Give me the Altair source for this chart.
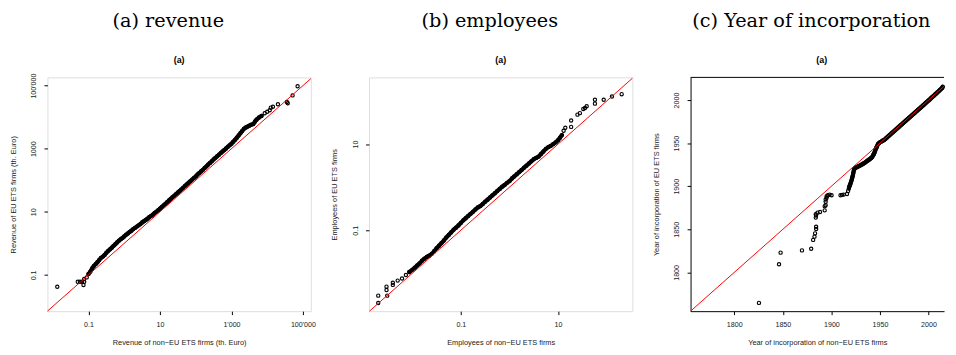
import altair as alt
import pandas as pd

# ---------------- texts ----------------
captions = ["(a) revenue", "(b) employees", "(c) Year of incorporation"]
panel_tags = ["(a)", "(a)", "(a)"]
x_titles = ["Revenue of non\u2212EU ETS firms (th. Euro)",
            "Employees of non\u2212EU ETS firms",
            "Year of incorporation of non\u2212EU ETS firms"]
y_titles = ["Revenue of EU ETS firms (th. Euro)",
            "Employees of EU ETS firms",
            "Year of incorporation of EU ETS firms"]

# ---------------- data (quantile pairs) ----------------
# revenue, log10 of (non-EU quantile, EU quantile)
rev_low_log10 = [
    (-1.873, -1.375), (-1.30, -1.22), (-1.24, -1.22), (-1.18, -1.22), (-1.14, -1.32),
    (-1.12, -1.22), (-1.12, -1.13), (-1.05, -1.08),
]
rev_band_log10 = [
    (-1.00, -0.97), (-0.95, -0.90), (-0.90, -0.80), (-0.85, -0.72), (-0.80, -0.66),
    (-0.75, -0.60), (-0.70, -0.53), (-0.65, -0.46), (-0.60, -0.42), (-0.55, -0.37),
    (-0.50, -0.30), (-0.45, -0.24), (-0.40, -0.19), (-0.35, -0.14), (-0.30, -0.08),
    (-0.25, -0.03), (-0.20, 0.03), (-0.15, 0.08), (-0.10, 0.13), (-0.05, 0.17),
    (0.00, 0.22), (0.05, 0.27), (0.10, 0.31), (0.15, 0.36), (0.20, 0.40),
    (0.25, 0.45), (0.30, 0.49), (0.35, 0.53), (0.40, 0.57), (0.45, 0.61),
    (0.50, 0.66), (0.55, 0.70), (0.60, 0.74), (0.65, 0.78), (0.70, 0.83),
    (0.75, 0.87), (0.80, 0.91), (0.85, 0.96), (0.90, 1.00), (0.95, 1.05),
    (1.00, 1.10), (1.05, 1.15), (1.10, 1.20), (1.15, 1.25), (1.20, 1.30),
    (1.25, 1.36), (1.30, 1.41), (1.35, 1.46), (1.40, 1.51), (1.45, 1.56),
    (1.50, 1.61), (1.55, 1.66), (1.60, 1.71), (1.65, 1.76), (1.70, 1.82),
    (1.75, 1.87), (1.80, 1.92), (1.85, 1.97), (1.90, 2.02), (1.95, 2.07),
    (2.00, 2.12), (2.05, 2.18), (2.10, 2.23), (2.15, 2.28), (2.20, 2.33),
    (2.25, 2.39), (2.30, 2.44), (2.35, 2.50), (2.40, 2.55), (2.45, 2.60),
    (2.50, 2.66), (2.55, 2.71), (2.60, 2.76), (2.65, 2.81), (2.70, 2.86),
    (2.75, 2.91), (2.80, 2.96), (2.85, 3.01), (2.90, 3.06), (2.95, 3.11),
    (3.00, 3.16), (3.05, 3.22), (3.10, 3.28), (3.15, 3.35), (3.20, 3.42),
    (3.25, 3.49), (3.30, 3.56), (3.35, 3.63), (3.40, 3.67), (3.45, 3.70),
    (3.50, 3.73), (3.55, 3.76), (3.61, 3.78), (3.66, 3.86), (3.70, 3.92),
    (3.77, 3.99), (3.84, 4.04),
]
rev_high_log10 = [
    (3.93, 4.125), (4.00, 4.17), (4.07, 4.22), (4.10, 4.30), (4.16, 4.33),
    (4.30, 4.41), (4.55, 4.48), (4.575, 4.44), (4.71, 4.69), (4.85, 4.98),
]
# employees, log10 of (non-EU quantile, EU quantile)
emp_low_log10 = [
    (-2.70, -2.69), (-2.70, -2.52), (-2.515, -2.52), (-2.53, -2.39), (-2.53, -2.31),
    (-2.40, -2.27), (-2.40, -2.22), (-2.30, -2.17), (-2.21, -2.12), (-2.13, -2.04),
]
emp_band_log10 = [
    (-2.06, -1.97), (-2.00, -1.92), (-1.95, -1.87), (-1.90, -1.82), (-1.85, -1.77),
    (-1.80, -1.71), (-1.75, -1.66), (-1.70, -1.62), (-1.65, -1.59), (-1.60, -1.55),
    (-1.55, -1.49), (-1.50, -1.42), (-1.45, -1.36), (-1.40, -1.30), (-1.35, -1.24),
    (-1.30, -1.17), (-1.25, -1.11), (-1.20, -1.05), (-1.15, -0.99), (-1.10, -0.94),
    (-1.05, -0.89), (-1.00, -0.83), (-0.95, -0.77), (-0.90, -0.72), (-0.85, -0.67),
    (-0.80, -0.62), (-0.75, -0.57), (-0.70, -0.52), (-0.65, -0.47), (-0.60, -0.44),
    (-0.55, -0.39), (-0.50, -0.34), (-0.45, -0.29), (-0.40, -0.24), (-0.35, -0.19),
    (-0.30, -0.14), (-0.25, -0.09), (-0.20, -0.04), (-0.15, 0.01), (-0.10, 0.05),
    (-0.05, 0.10), (0.00, 0.14), (0.05, 0.20), (0.10, 0.25), (0.15, 0.30),
    (0.20, 0.35), (0.25, 0.40), (0.30, 0.45), (0.35, 0.50), (0.40, 0.55),
    (0.45, 0.60), (0.50, 0.65), (0.55, 0.68), (0.60, 0.71), (0.65, 0.77),
    (0.70, 0.83), (0.75, 0.89), (0.80, 0.93), (0.85, 0.96), (0.90, 1.00),
    (0.95, 1.04), (1.00, 1.09), (1.04, 1.15), (1.08, 1.21),
]
emp_high_log10 = [
    (1.115, 1.31), (1.15, 1.38), (1.27, 1.40), (1.27, 1.55), (1.40, 1.685),
    (1.45, 1.72), (1.52, 1.815), (1.555, 1.84), (1.59, 1.88), (1.76, 1.94),
    (1.76, 2.03), (1.94, 2.03), (2.11, 2.105), (2.31, 2.16),
]
# year of incorporation, (non-EU quantile, EU quantile)
year_low = [
    (1825.4, 1764.6), (1846.1, 1809.5), (1847.7, 1822.9), (1869.7, 1825.5),
    (1879.2, 1827.4), (1881.2, 1837.7), (1882.6, 1841.5), (1883.2, 1845.3),
    (1884.3, 1850.3), (1884.3, 1852.9), (1883.9, 1863.6), (1884.2, 1866.0),
    (1883.9, 1867.4), (1885.7, 1869.3), (1888.3, 1870.1), (1893.1, 1872.0),
    (1893.1, 1876.9), (1894.1, 1878.0), (1894.1, 1882.0), (1894.1, 1884.6),
    (1895.1, 1886.5), (1895.1, 1888.3), (1896.4, 1889.5), (1898.2, 1890.3),
    (1900.2, 1889.5), (1909.4, 1889.5), (1911.0, 1890.0), (1912.7, 1890.3),
    (1916.1, 1891.0), (1917.2, 1894.5),
]
year_band = [
    (1918.0, 1897.5), (1918.5, 1899.8),
    (1919.2, 1901.5), (1919.8, 1903.5), (1920.5, 1906.0), (1921.2, 1908.6),
    (1921.7, 1911.0), (1922.2, 1913.1), (1922.7, 1916.0), (1923.2, 1918.9),
    (1924.0, 1920.5), (1925, 1921.5), (1926, 1922.0), (1927, 1922.6),
    (1928, 1923.2), (1929, 1923.8), (1930, 1924.4), (1931, 1925.0),
    (1932, 1925.6), (1933, 1926.3), (1934, 1927.0), (1935, 1927.7),
    (1936, 1928.6), (1937, 1929.5), (1938, 1930.2), (1939, 1931.0),
    (1940, 1931.9), (1941, 1932.8), (1942, 1934.0), (1943, 1936.0),
    (1943.5, 1937.0), (1944, 1938.0), (1944.7, 1940.0), (1945.3, 1942.0),
    (1946, 1944.0), (1946.5, 1945.0), (1947, 1946.5), (1948, 1949.0),
    (1949, 1950.0), (1950, 1951.0), (1951, 1951.5), (1952, 1952.3),
    (1953, 1953.0), (1954, 1953.5), (1955, 1954.4), (1956, 1955.4),
    (1957, 1956.4), (1958, 1957.4), (1959, 1958.4), (1960, 1959.4),
    (1961, 1960.4), (1962, 1961.4), (1963, 1962.4), (1964, 1963.4),
    (1965, 1964.4), (1966, 1965.4), (1967, 1966.4), (1968, 1967.4),
    (1969, 1968.4), (1970, 1969.4), (1971, 1970.4), (1972, 1971.4),
    (1973, 1972.4), (1974, 1973.4), (1975, 1974.4), (1976, 1975.4),
    (1977, 1976.4), (1978, 1977.4), (1979, 1978.4), (1980, 1979.4),
    (1981, 1980.4), (1982, 1981.4), (1983, 1982.4), (1984, 1983.4),
    (1985, 1984.4), (1986, 1985.4), (1987, 1986.4), (1988, 1987.4),
    (1989, 1988.4), (1990, 1989.4), (1991, 1990.4), (1992, 1991.4),
    (1993, 1992.4), (1994, 1993.4), (1995, 1994.4), (1996, 1995.4),
    (1997, 1996.5), (1998, 1997.5), (1999, 1998.5), (2000, 1999.5),
    (2001, 2000.5), (2002, 2001.5), (2003, 2002.6), (2004, 2003.6),
    (2005, 2004.6), (2006, 2005.6), (2007, 2006.7), (2008, 2007.7),
    (2009, 2008.7), (2010, 2009.8), (2011, 2010.8), (2012, 2011.9),
    (2013, 2013.0), (2014, 2014.0), (2014.6, 2015.4),
]
year_high = []

# axis ranges (log10 for the two log panels)
rev_x_dom_log10 = [-2.148, 5.22]
rev_y_dom_log10 = [-2.15, 5.26]
emp_x_dom_log10 = [-2.89, 2.53]
emp_y_dom_log10 = [-2.88, 2.55]
year_x_dom = [1755, 2016]
year_y_dom = [1755, 2026.3]

# ticks
rev_ticks = [0.1, 10, 1000, 100000]
rev_x_labels = ["0.1", "10", "1'000", "100'000"]
rev_y_labels = ["0.1", "10", "1000", "100'000"]
emp_ticks = [0.1, 10]
emp_labels = ["0.1", "10"]
year_ticks = [1800, 1850, 1900, 1950, 2000]
year_labels = ["1800", "1850", "1900", "1950", "2000"]

# ---------------- layout constants ----------------
W12, W3, H = 267, 257, 237
SPACING = 59
FONT = "Liberation Sans"
TXT = "#222222"


def label_expr(values, labels):
    expr = '""'
    for v, lab in reversed(list(zip(values, labels))):
        tol = abs(v) * 1e-6
        expr = f'(abs(datum.value - {v}) <= {tol}) ? "{lab}" : ({expr})'
    return expr


def make_axis(title, values, labels, vertical, domain):
    kw = dict(
        title=title, values=values, labelExpr=label_expr(values, labels),
        grid=False, domain=domain, domainColor="black", domainWidth=1,
        ticks=True, tickSize=3.5, tickColor="black", tickWidth=1,
        labelFont=FONT, labelFontSize=7.2, labelColor=TXT,
        labelFlush=False, labelOverlap=False, labelBound=False,
        titleFont=FONT, titleFontSize=7.5, titleFontWeight="normal", titleColor=TXT,
    )
    if vertical:
        kw.update(labelAngle=270, labelAlign="center", labelBaseline="bottom",
                  labelPadding=6.5, titlePadding=12.5)
    else:
        kw.update(labelPadding=6.0, titlePadding=11.0)
    return alt.Axis(**kw)


def to_df(pairs, log):
    if log:
        return pd.DataFrame({"x": [10 ** a for a, b in pairs], "y": [10 ** b for a, b in pairs]})
    return pd.DataFrame({"x": [a for a, b in pairs], "y": [b for a, b in pairs]})


def panel(low, band, high, log, xdom, ydom, xaxis, yaxis, width, caption, tag, tag_dx, framed):
    if log:
        xd = [10 ** v for v in xdom]
        yd = [10 ** v for v in ydom]
        stype = "log"
    else:
        xd, yd = list(xdom), list(ydom)
        stype = "linear"
    lo = max(xd[0], yd[0])
    hi = min(xd[1], yd[1])
    line_df = pd.DataFrame({"x": [lo, hi], "y": [lo, hi]})

    xs = alt.Scale(type=stype, domain=xd, nice=False, zero=False)
    ys = alt.Scale(type=stype, domain=yd, nice=False, zero=False)

    all_df = to_df(low + band + high, log)
    band_df = to_df(band, log)

    band_line = alt.Chart(band_df).mark_line(
        color="black", strokeWidth=4.2, strokeCap="round", strokeJoin="round",
    ).encode(
        x=alt.X("x:Q", scale=xs, axis=xaxis),
        y=alt.Y("y:Q", scale=ys, axis=yaxis),
    )
    pts = alt.Chart(all_df).mark_point(
        shape="circle", filled=False, size=11, strokeWidth=1.15,
        color="black", opacity=1,
    ).encode(
        x=alt.X("x:Q", scale=xs),
        y=alt.Y("y:Q", scale=ys),
    )
    line = alt.Chart(line_df).mark_line(color="red", strokeWidth=1).encode(
        x=alt.X("x:Q", scale=xs),
        y=alt.Y("y:Q", scale=ys),
    )
    txt = pd.DataFrame({"caption": [caption], "tag": [tag]})
    cap = alt.Chart(txt).mark_text(
        font="DejaVu Serif", fontSize=19.5, baseline="alphabetic",
        align="center", color="black",
    ).encode(x=alt.value(122.5), y=alt.value(-51.5), text="caption:N")
    tg = alt.Chart(txt).mark_text(
        font=FONT, fontSize=9, fontWeight="bold", baseline="middle",
        align="center", color="black",
    ).encode(x=alt.value(width / 2 + tag_dx), y=alt.value(-18), text="tag:N")

    layers = [band_line, pts, line, cap, tg]
    if not framed:
        top = alt.Chart(pd.DataFrame({"k": [0]})).mark_rule(
            color="black", strokeWidth=1
        ).encode(x=alt.value(0), x2=alt.value(width), y=alt.value(0))
        layers.append(top)

    props = dict(width=width, height=H)
    if not framed:
        props["view"] = alt.ViewBackground(stroke="transparent")
    return alt.layer(*layers).properties(**props)


p1 = panel(rev_low_log10, rev_band_log10, rev_high_log10, True,
           rev_x_dom_log10, rev_y_dom_log10,
           make_axis(x_titles[0], rev_ticks, rev_x_labels, False, False),
           make_axis(y_titles[0], rev_ticks, rev_y_labels, True, False),
           W12, captions[0], panel_tags[0], 0, True)
p2 = panel(emp_low_log10, emp_band_log10, emp_high_log10, True,
           emp_x_dom_log10, emp_y_dom_log10,
           make_axis(x_titles[1], emp_ticks, emp_labels, False, False),
           make_axis(y_titles[1], emp_ticks, emp_labels, True, False),
           W12, captions[1], panel_tags[1], 0, True)
p3 = panel(year_low, year_band, year_high, False,
           year_x_dom, year_y_dom,
           make_axis(x_titles[2], year_ticks, year_labels, False, True),
           make_axis(y_titles[2], year_ticks, year_labels, True, True),
           W3, captions[2], panel_tags[2], 4.5, False)

chart = alt.hconcat(p1, p2, p3, spacing=SPACING, bounds="flush").properties(
    padding={"left": 1, "top": 0, "right": 0, "bottom": 0},
).configure_view(
    stroke="black", strokeWidth=1,
).configure(font=FONT, background="white")

chart.save("out.html", embed_options={"renderer": "svg", "actions": False})
